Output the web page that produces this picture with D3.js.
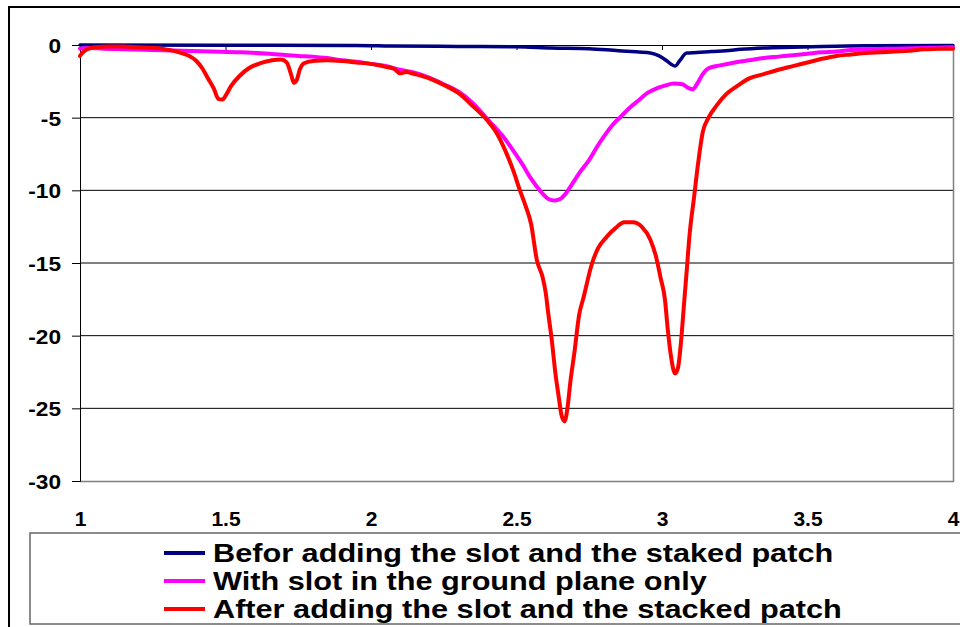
<!DOCTYPE html>
<html>
<head>
<meta charset="utf-8">
<script src="https://cdn.jsdelivr.net/npm/d3@7"></script>
<style>
  html, body { margin: 0; padding: 0; background: #fff; }
  svg { display: block; }
  text { font-family: "Liberation Sans", Arial, sans-serif; font-weight: bold; fill: #000; }
</style>
</head>
<body>
<svg id="chart" width="960" height="627"></svg>
<script>
// ---------- DATA ----------
const xTicks = [1, 1.5, 2, 2.5, 3, 3.5, 4];
const yTicks = [0, -5, -10, -15, -20, -25, -30];

const seriesNames = [
  "Befor adding the slot and the staked patch",
  "With slot in the ground plane only",
  "After adding the slot and the stacked patch"
];
const seriesColors = ["#000080", "#FF00FF", "#FF0000"];

const blueX = [1.00, 1.50, 1.95, 2.07, 2.30, 2.50, 2.62, 2.75, 2.85, 2.92, 2.96, 2.99, 3.01, 3.03, 3.045, 3.06, 3.085, 3.12, 3.17, 3.22, 3.27, 3.35, 3.45, 3.55, 3.70, 4.00];
const blueY = [0, -0.02, -0.03, -0.07, -0.1, -0.12, -0.2, -0.25, -0.4, -0.48, -0.55, -0.75, -1.0, -1.3, -1.45, -1.1, -0.55, -0.52, -0.45, -0.4, -0.3, -0.2, -0.15, -0.1, -0.05, -0.03];

const magentaX = [1.00, 1.03, 1.08, 1.15, 1.25, 1.35, 1.45, 1.55, 1.65, 1.75, 1.80, 1.85, 1.90, 1.95, 2.00, 2.05, 2.10, 2.15, 2.20, 2.25, 2.30, 2.35, 2.40, 2.45, 2.49, 2.52, 2.55, 2.58, 2.61, 2.63, 2.65, 2.67, 2.69, 2.72, 2.75, 2.78, 2.80, 2.83, 2.86, 2.89, 2.92, 2.95, 2.98, 3.01, 3.04, 3.07, 3.09, 3.105, 3.12, 3.14, 3.16, 3.20, 3.25, 3.30, 3.35, 3.40, 3.45, 3.50, 3.55, 3.60, 3.65, 3.70, 3.80, 3.90, 4.00];
const magentaY = [-0.25, -0.2, -0.25, -0.3, -0.35, -0.4, -0.45, -0.5, -0.6, -0.75, -0.8, -0.9, -1.05, -1.15, -1.3, -1.45, -1.7, -1.9, -2.25, -2.7, -3.2, -4.0, -5.1, -6.2, -7.3, -8.2, -9.2, -10.0, -10.6, -10.7, -10.6, -10.2, -9.6, -8.7, -7.9, -6.9, -6.3, -5.5, -4.9, -4.3, -3.8, -3.3, -3.0, -2.8, -2.65, -2.7, -2.95, -3.05, -2.7, -2.0, -1.6, -1.4, -1.2, -1.05, -0.9, -0.8, -0.7, -0.6, -0.5, -0.45, -0.35, -0.3, -0.25, -0.2, -0.15];

const redX = [1.00, 1.01, 1.03, 1.05, 1.10, 1.15, 1.20, 1.25, 1.28, 1.31, 1.34, 1.37, 1.40, 1.42, 1.44, 1.46, 1.475, 1.49, 1.50, 1.52, 1.55, 1.58, 1.62, 1.66, 1.69, 1.71, 1.725, 1.735, 1.745, 1.755, 1.77, 1.80, 1.85, 1.90, 1.95, 2.00, 2.05, 2.08, 2.10, 2.12, 2.15, 2.20, 2.25, 2.30, 2.35, 2.40, 2.43, 2.46, 2.49, 2.51, 2.53, 2.55, 2.57, 2.59, 2.60, 2.61, 2.62, 2.635, 2.645, 2.655, 2.665, 2.675, 2.685, 2.70, 2.715, 2.73, 2.76, 2.78, 2.81, 2.84, 2.87, 2.90, 2.93, 2.96, 2.98, 2.995, 3.01, 3.02, 3.03, 3.045, 3.055, 3.065, 3.075, 3.085, 3.095, 3.11, 3.125, 3.14, 3.16, 3.19, 3.22, 3.26, 3.30, 3.35, 3.40, 3.45, 3.50, 3.55, 3.60, 3.65, 3.70, 3.75, 3.80, 3.85, 3.90, 3.95, 4.00];
const redY = [-0.75, -0.5, -0.25, -0.15, -0.1, -0.1, -0.15, -0.2, -0.25, -0.35, -0.5, -0.7, -1.1, -1.6, -2.3, -3.0, -3.7, -3.75, -3.5, -2.8, -2.1, -1.6, -1.25, -1.05, -1.0, -1.2, -2.0, -2.6, -2.4, -1.7, -1.25, -1.1, -1.05, -1.1, -1.2, -1.3, -1.5, -1.65, -1.95, -1.85, -2.0, -2.3, -2.75, -3.3, -4.2, -5.2, -6.0, -7.2, -8.7, -9.9, -11.0, -12.3, -14.8, -16.0, -17.0, -18.6, -20.1, -22.8, -24.2, -25.5, -25.9, -25.0, -23.2, -21.0, -18.6, -17.4, -15.0, -14.0, -13.2, -12.6, -12.2, -12.2, -12.5, -13.4, -14.6, -16.0, -17.5, -19.6, -21.3, -22.6, -22.2, -20.5, -18.0, -15.5, -13.0, -10.5, -8.0, -6.0, -5.0, -4.1, -3.4, -2.8, -2.3, -2.0, -1.7, -1.45, -1.2, -0.95, -0.75, -0.65, -0.55, -0.5, -0.45, -0.4, -0.3, -0.25, -0.25];

// ---------- LAYOUT ----------
const svg = d3.select("#chart");
const plot = { left: 80, right: 953, top: 45, bottom: 481 };

const x = d3.scaleLinear().domain([1, 4]).range([plot.left, plot.right]);
const y = d3.scaleLinear().domain([-30, 0]).range([plot.bottom, plot.top]);

// outer chart border
svg.append("rect")
  .attr("x", 9).attr("y", 7).attr("width", 1000).attr("height", 1000)
  .attr("fill", "none").attr("stroke", "#000").attr("stroke-width", 2);

// gridlines
svg.append("g").selectAll("line")
  .data(yTicks.filter(d => d !== 0 && d !== -30))
  .join("line")
  .attr("x1", plot.left).attr("x2", plot.right)
  .attr("y1", d => y(d)).attr("y2", d => y(d))
  .attr("stroke", "#000").attr("stroke-width", 1);

// plot area border (right & bottom)
svg.append("path")
  .attr("d", `M${plot.right + 0.5},${plot.top}V${plot.bottom + 0.5}H${plot.left}`)
  .attr("fill", "none").attr("stroke", "#808080").attr("stroke-width", 1.5);

// y axis
const yAxis = svg.append("g")
  .attr("transform", `translate(${plot.left},0)`)
  .call(d3.axisLeft(y).tickValues(yTicks).tickSize(8).tickPadding(11).tickFormat(d => String(d)));
yAxis.select(".domain").attr("stroke", "#000");
yAxis.selectAll(".tick line").attr("stroke", "#000");
yAxis.selectAll("text").style("font-size", "21px").attr("dy", "0.36em")
  .attr("transform", "scale(1.08,1)").attr("x", -19 / 1.08);

// x axis line at 0 with tick marks pointing down
const xTop = svg.append("g")
  .attr("transform", `translate(0,${y(0)})`)
  .call(d3.axisBottom(x).tickValues(xTicks).tickSize(5).tickSizeOuter(0).tickFormat(""));
xTop.select(".domain").attr("stroke", "#000");
xTop.selectAll(".tick line").attr("stroke", "#000");

// x labels at the bottom
const xLab = svg.append("g")
  .attr("transform", `translate(0,${plot.bottom})`)
  .call(d3.axisBottom(x).tickValues(xTicks).tickSize(0).tickPadding(30).tickFormat(d => String(d)));
xLab.select(".domain").remove();
xLab.selectAll("text").style("font-size", "21px");

// series
const line = d3.line().x(d => x(d[0])).y(d => y(d[1])).curve(d3.curveMonotoneX);
const series = [
  { xs: blueX, ys: blueY, color: seriesColors[0], w: 3.5 },
  { xs: magentaX, ys: magentaY, color: seriesColors[1], w: 4 },
  { xs: redX, ys: redY, color: seriesColors[2], w: 4 }
];
series.forEach(s => {
  svg.append("path")
    .datum(d3.zip(s.xs, s.ys))
    .attr("d", line)
    .attr("fill", "none")
    .attr("stroke", s.color)
    .attr("stroke-width", s.w)
    .attr("stroke-linejoin", "round")
    .attr("stroke-linecap", "round");
});

// legend
svg.append("rect")
  .attr("x", 30).attr("y", 533).attr("width", 1000).attr("height", 91)
  .attr("fill", "#fff").attr("stroke", "#666").attr("stroke-width", 1.5);

const leg = svg.append("g");
seriesNames.forEach((name, i) => {
  const cy = 553 + i * 28;
  leg.append("line")
    .attr("x1", 164).attr("x2", 205).attr("y1", cy).attr("y2", cy)
    .attr("stroke", seriesColors[i]).attr("stroke-width", 4);
  leg.append("text")
    .attr("transform", `translate(213,${cy + 9}) scale(1.18,1)`)
    .style("font-size", "26px")
    .text(name);
});
</script>
</body>
</html>
